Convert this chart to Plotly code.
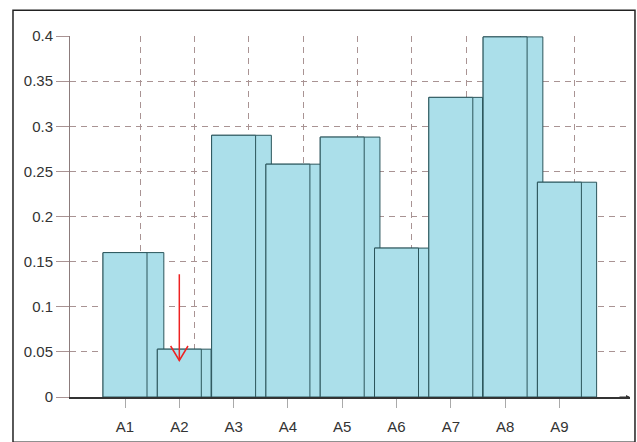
import plotly.graph_objects as go

# ---- data ----
categories = ["A1", "A2", "A3", "A4", "A5", "A6", "A7", "A8", "A9"]
values = [0.16, 0.053, 0.29, 0.258, 0.288, 0.165, 0.332, 0.399, 0.238]
y_tick_vals = [0, 0.05, 0.1, 0.15, 0.2, 0.25, 0.3, 0.35, 0.4]
y_tick_text = ["0", "0.05", "0.1", "0.15", "0.2", "0.25", "0.3", "0.35", "0.4"]

# red marker arrow (annotation): target category, tail and tip levels
arrow_cat = 1
arrow_tail = 0.136
arrow_tip = 0.0405

# ---- styling ----
strip_extra = [0.31, 0.18, 0.29, 0.26, 0.29, 0.20, 0.18, 0.29, 0.28]
main_width = 0.81
grid_shift = 0.28
head_half_w = 0.16
head_h = 0.016
fill = "#abdfea"
edge = "#2b555b"
gridc = "#a99393"
font = dict(family="Liberation Sans, Arial, sans-serif", size=15, color="#333333")

pos = list(range(len(categories)))

fig = go.Figure()
fig.add_trace(go.Bar(
    x=pos, y=values,
    width=[main_width + s for s in strip_extra],
    offset=-main_width / 2,
    marker=dict(color=fill, line=dict(color=edge, width=1)),
    showlegend=False, hoverinfo="skip",
))
fig.add_trace(go.Bar(
    x=pos, y=values,
    width=main_width,
    offset=-main_width / 2,
    marker=dict(color=fill, line=dict(color=edge, width=1)),
    showlegend=False,
))

# red arrow pointing at A2 (shaft + open V head)
a = pos[arrow_cat]
fig.add_trace(go.Scatter(
    x=[a, a, None, a - head_half_w, a, a + head_half_w],
    y=[arrow_tail, arrow_tip, None, arrow_tip + head_h, arrow_tip, arrow_tip + head_h],
    mode="lines", line=dict(color="#ee2222", width=1.5),
    showlegend=False, hoverinfo="skip",
))

# small arrow at end of x axis
fig.add_annotation(
    x=1.0, y=0, xref="paper", yref="paper", ax=-12, ay=0,
    showarrow=True, arrowhead=2, arrowsize=0.8, arrowwidth=1,
    arrowcolor="#333333", text="",
)

# outer frame
fig.add_shape(type="rect", xref="paper", yref="paper",
              x0=-0.1018, x1=1.0089, y0=-0.125, y1=1.0712,
              line=dict(color="#222222", width=1.5), fillcolor="rgba(0,0,0,0)",
              layer="above")

fig.update_layout(
    width=637, height=442,
    margin=dict(l=70, r=7, t=36, b=41),
    paper_bgcolor="white", plot_bgcolor="white",
    barmode="overlay",
    font=font,
    xaxis=dict(
        range=[-1.013, 9.30],
        tickmode="array", tickvals=pos, ticktext=categories,
        showgrid=False, zeroline=False,
        ticks="outside", ticklen=9, tickcolor="#aaaaaa", tickwidth=1,
        ticklabelstandoff=6,
        showline=True, linecolor="#333333", linewidth=1.5,
        minor=dict(tickmode="array", tickvals=[p + grid_shift for p in pos],
                   showgrid=True, gridcolor=gridc, gridwidth=1,
                   griddash="6px,5px", ticks=""),
    ),
    yaxis=dict(
        range=[0, 0.4],
        tickmode="array", tickvals=y_tick_vals, ticktext=y_tick_text,
        showgrid=True, gridcolor=gridc, gridwidth=1, griddash="6px,5px",
        zeroline=False,
        ticks="outside", ticklen=13, tickcolor=gridc, tickwidth=1,
        showline=True, linecolor="#8c7c7c", linewidth=1,
    ),
)

fig.write_html("out.html", config={"displayModeBar": False},
               post_script="document.body.style.margin='0';document.body.style.overflow='hidden';")
